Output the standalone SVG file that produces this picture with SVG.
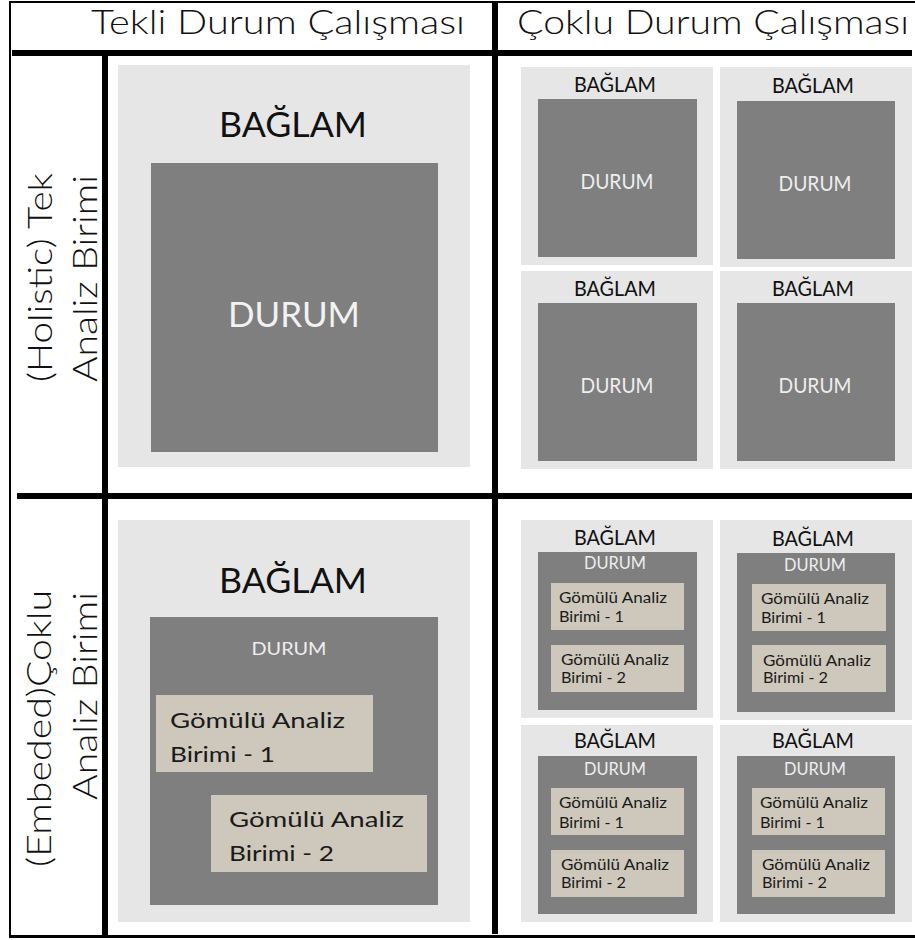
<svg xmlns="http://www.w3.org/2000/svg" width="915" height="940" viewBox="0 0 915 940">
<style>
text{font-family:"Lato","Open Sans","Liberation Sans",sans-serif}
.hdr{font-size:33px;font-weight:300;fill:#111}
.lbl{font-size:33px;font-weight:300;fill:#111}
.ctx{fill:#e6e6e6}
.case{fill:#7f7f7f}
.unit{fill:#cdc8bb}
.bigB{font-size:35px;fill:#111;text-anchor:middle}
.bigD{font-size:35px;fill:#f2f2f2;text-anchor:middle}
.smB{font-size:22px;fill:#111;text-anchor:middle}
.smD{font-size:22px;fill:#eeeeee;text-anchor:middle}
.xsD{font-size:17px;fill:#eeeeee;text-anchor:middle}
.mdD{font-size:18px;fill:#eeeeee;text-anchor:middle}
.uBig{font-size:22px;fill:#1a1a1a}
.uSm{font-size:15px;fill:#1a1a1a}
.line{fill:#000}
</style>
<rect width="915" height="940" fill="#fff"/>

<g id="grid">
<rect class="line" x="9" y="1" width="906" height="2"/>
<rect class="line" x="9" y="1" width="2" height="937"/>
<rect class="line" x="9" y="935" width="906" height="3"/>
<rect class="line" x="12" y="50" width="900" height="6"/>
<rect class="line" x="17" y="493" width="895" height="6"/>
<rect class="line" x="492" y="1" width="6" height="933"/>
<rect class="line" x="102" y="56" width="6" height="881"/>
</g>

<g id="headers">
<text class="hdr" x="91" y="34" textLength="374" lengthAdjust="spacingAndGlyphs">Tekli Durum Çalışması</text>
<text class="hdr" x="517" y="34" textLength="392" lengthAdjust="spacingAndGlyphs">Çoklu Durum Çalışması</text>
</g>

<g id="row-labels">
<text class="lbl" transform="translate(52,382) rotate(-90)" textLength="209" lengthAdjust="spacingAndGlyphs">(Holistic) Tek</text>
<text class="lbl" transform="translate(97,382) rotate(-90)" textLength="207" lengthAdjust="spacingAndGlyphs">Analiz Birimi</text>
<text class="lbl" transform="translate(51,867) rotate(-90)" textLength="277" lengthAdjust="spacingAndGlyphs">(Embeded)Çoklu</text>
<text class="lbl" transform="translate(97,800) rotate(-90)" textLength="208" lengthAdjust="spacingAndGlyphs">Analiz Birimi</text>
</g>

<g id="single-holistic">
<rect class="ctx" x="118" y="65" width="352" height="402"/>
<text class="bigB" x="293" y="137" textLength="148" lengthAdjust="spacingAndGlyphs">BAĞLAM</text>
<rect class="case" x="151" y="163" width="287" height="289"/>
<text class="bigD" x="294" y="327" textLength="132" lengthAdjust="spacingAndGlyphs">DURUM</text>
</g>

<g id="multi-holistic-1">
<rect class="ctx" x="521" y="67" width="192" height="198"/>
<text class="smB" x="615" y="92" textLength="82" lengthAdjust="spacingAndGlyphs">BAĞLAM</text>
<rect class="case" x="538" y="99" width="159" height="158"/>
<text class="smD" x="617" y="189" textLength="73" lengthAdjust="spacingAndGlyphs">DURUM</text>
</g>
<g id="multi-holistic-2">
<rect class="ctx" x="720" y="67" width="192" height="200"/>
<text class="smB" x="813" y="93" textLength="82" lengthAdjust="spacingAndGlyphs">BAĞLAM</text>
<rect class="case" x="737" y="101" width="158" height="158"/>
<text class="smD" x="815" y="191" textLength="73" lengthAdjust="spacingAndGlyphs">DURUM</text>
</g>
<g id="multi-holistic-3">
<rect class="ctx" x="521" y="271" width="192" height="198"/>
<text class="smB" x="615" y="296" textLength="82" lengthAdjust="spacingAndGlyphs">BAĞLAM</text>
<rect class="case" x="538" y="303" width="159" height="158"/>
<text class="smD" x="617" y="393" textLength="73" lengthAdjust="spacingAndGlyphs">DURUM</text>
</g>
<g id="multi-holistic-4">
<rect class="ctx" x="720" y="271" width="192" height="198"/>
<text class="smB" x="813" y="296" textLength="82" lengthAdjust="spacingAndGlyphs">BAĞLAM</text>
<rect class="case" x="737" y="303" width="158" height="158"/>
<text class="smD" x="815" y="393" textLength="73" lengthAdjust="spacingAndGlyphs">DURUM</text>
</g>

<g id="single-embedded">
<rect class="ctx" x="118" y="520" width="352" height="402"/>
<text class="bigB" x="293" y="593" textLength="148" lengthAdjust="spacingAndGlyphs">BAĞLAM</text>
<rect class="case" x="150" y="617" width="288" height="288"/>
<text class="mdD" x="289" y="655" textLength="75" lengthAdjust="spacingAndGlyphs">DURUM</text>
<rect class="unit" x="156" y="695" width="217" height="77"/>
<text class="uBig" x="170" y="728" textLength="175" lengthAdjust="spacingAndGlyphs">Gömülü Analiz</text>
<text class="uBig" x="170" y="762" textLength="105" lengthAdjust="spacingAndGlyphs">Birimi - 1</text>
<rect class="unit" x="211" y="795" width="216" height="77"/>
<text class="uBig" x="229" y="827" textLength="175" lengthAdjust="spacingAndGlyphs">Gömülü Analiz</text>
<text class="uBig" x="229" y="861" textLength="105" lengthAdjust="spacingAndGlyphs">Birimi - 2</text>
</g>

<g id="multi-embedded-1">
<rect class="ctx" x="521" y="520" width="192" height="198"/>
<text class="smB" x="615" y="545" textLength="82" lengthAdjust="spacingAndGlyphs">BAĞLAM</text>
<rect class="case" x="538" y="552" width="159" height="158"/>
<text class="xsD" x="615" y="569" textLength="62" lengthAdjust="spacingAndGlyphs">DURUM</text>
<rect class="unit" x="551" y="583" width="133" height="47"/>
<text class="uSm" x="559" y="603" textLength="108" lengthAdjust="spacingAndGlyphs">Gömülü Analiz</text>
<text class="uSm" x="559" y="622" textLength="65" lengthAdjust="spacingAndGlyphs">Birimi - 1</text>
<rect class="unit" x="551" y="645" width="133" height="47"/>
<text class="uSm" x="561" y="665" textLength="108" lengthAdjust="spacingAndGlyphs">Gömülü Analiz</text>
<text class="uSm" x="561" y="683" textLength="65" lengthAdjust="spacingAndGlyphs">Birimi - 2</text>
</g>
<g id="multi-embedded-2">
<rect class="ctx" x="720" y="520" width="192" height="200"/>
<text class="smB" x="813" y="546" textLength="82" lengthAdjust="spacingAndGlyphs">BAĞLAM</text>
<rect class="case" x="737" y="553" width="158" height="159"/>
<text class="xsD" x="815" y="571" textLength="62" lengthAdjust="spacingAndGlyphs">DURUM</text>
<rect class="unit" x="752" y="584" width="134" height="47"/>
<text class="uSm" x="761" y="604" textLength="108" lengthAdjust="spacingAndGlyphs">Gömülü Analiz</text>
<text class="uSm" x="761" y="623" textLength="65" lengthAdjust="spacingAndGlyphs">Birimi - 1</text>
<rect class="unit" x="752" y="645" width="134" height="47"/>
<text class="uSm" x="763" y="666" textLength="108" lengthAdjust="spacingAndGlyphs">Gömülü Analiz</text>
<text class="uSm" x="763" y="683" textLength="65" lengthAdjust="spacingAndGlyphs">Birimi - 2</text>
</g>
<g id="multi-embedded-3">
<rect class="ctx" x="521" y="725" width="192" height="197"/>
<text class="smB" x="615" y="748" textLength="82" lengthAdjust="spacingAndGlyphs">BAĞLAM</text>
<rect class="case" x="538" y="756" width="159" height="158"/>
<text class="xsD" x="615" y="775" textLength="62" lengthAdjust="spacingAndGlyphs">DURUM</text>
<rect class="unit" x="551" y="788" width="133" height="47"/>
<text class="uSm" x="559" y="808" textLength="108" lengthAdjust="spacingAndGlyphs">Gömülü Analiz</text>
<text class="uSm" x="559" y="828" textLength="65" lengthAdjust="spacingAndGlyphs">Birimi - 1</text>
<rect class="unit" x="551" y="850" width="133" height="47"/>
<text class="uSm" x="561" y="870" textLength="108" lengthAdjust="spacingAndGlyphs">Gömülü Analiz</text>
<text class="uSm" x="561" y="888" textLength="65" lengthAdjust="spacingAndGlyphs">Birimi - 2</text>
</g>
<g id="multi-embedded-4">
<rect class="ctx" x="720" y="725" width="192" height="197"/>
<text class="smB" x="813" y="748" textLength="82" lengthAdjust="spacingAndGlyphs">BAĞLAM</text>
<rect class="case" x="737" y="756" width="158" height="158"/>
<text class="xsD" x="815" y="775" textLength="62" lengthAdjust="spacingAndGlyphs">DURUM</text>
<rect class="unit" x="752" y="788" width="133" height="47"/>
<text class="uSm" x="760" y="808" textLength="108" lengthAdjust="spacingAndGlyphs">Gömülü Analiz</text>
<text class="uSm" x="760" y="828" textLength="65" lengthAdjust="spacingAndGlyphs">Birimi - 1</text>
<rect class="unit" x="752" y="850" width="133" height="47"/>
<text class="uSm" x="762" y="870" textLength="108" lengthAdjust="spacingAndGlyphs">Gömülü Analiz</text>
<text class="uSm" x="762" y="888" textLength="65" lengthAdjust="spacingAndGlyphs">Birimi - 2</text>
</g>
</svg>
